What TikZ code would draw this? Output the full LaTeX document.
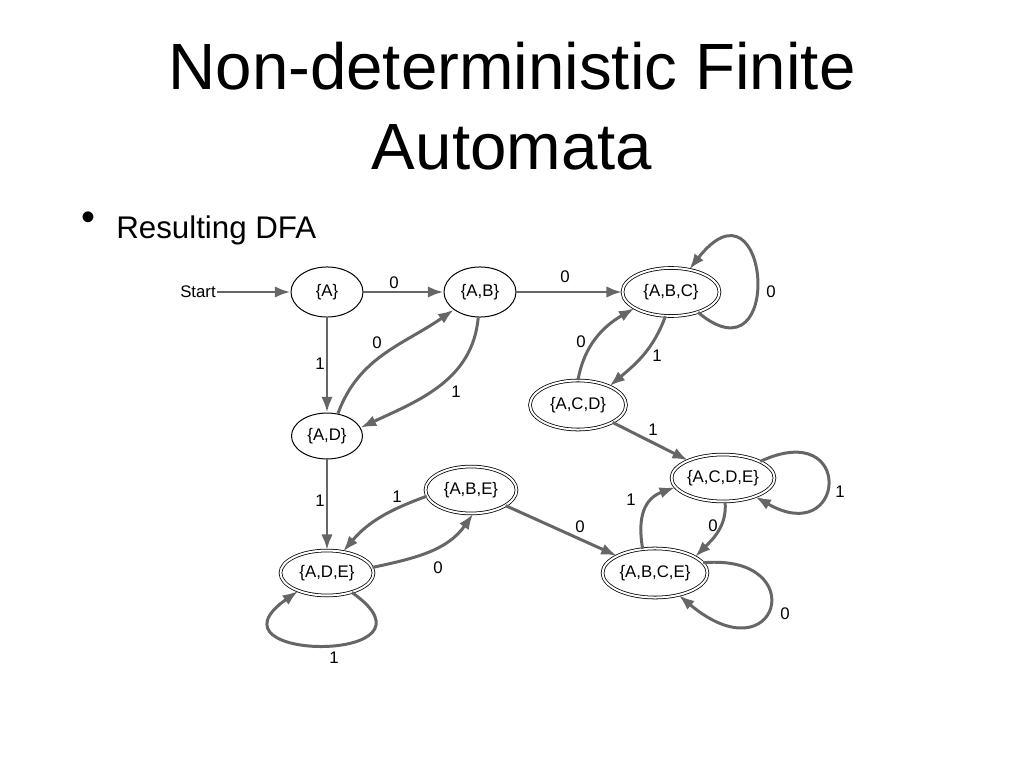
\documentclass[tikz,border=0pt]{standalone}
\usepackage{fontspec}
\setmainfont{Liberation Sans}
\usetikzlibrary{shapes.geometric,arrows.meta}
\newdimen\pxu \pxu=0.703125pt
\definecolor{edgegray}{RGB}{102,102,102}
\tikzset{
  st/.style={ellipse, draw=black, line width=0.7pt, inner sep=0pt, font=\fontsize{11.8}{14}\selectfont},
  acc/.style={st, double, double distance=1.4pt, line width=0.55pt},
  edge/.style={draw=edgegray, line width=2.1pt, -{Latex[length=11pt,width=8pt]}},
  lbl/.style={font=\fontsize{11.8}{14}\selectfont, inner sep=0pt},
}
\begin{document}
\begin{tikzpicture}[x=\pxu,y=\pxu]
\fill[white] (0,0) rectangle (1024,-768);
\useasboundingbox (0,0) rectangle (1024,-768);

% title and bullet
\node[anchor=base, inner sep=0pt, font=\fontsize{46}{55}\selectfont] (t1) at (512,-90) {Non-deterministic Finite};
\node[anchor=base, inner sep=0pt, font=\fontsize{46}{55}\selectfont] (t2) at (512,-170) {Automata};
\node[inner sep=0pt, font=\fontsize{28}{32}\selectfont] (bul) at (88.5,-221.5) {•};
\node[anchor=base west, inner sep=0pt, font=\fontsize{22}{26}\selectfont] (sub) at (116,-239) {Resulting DFA};

% states
\node[lbl, inner sep=1pt] (start) at (198,-292) {Start};
\node[st, minimum width=50.6pt, minimum height=35.2pt] (A) at (327,-292) {\{A\}};
\node[st, minimum width=50.6pt, minimum height=35.2pt] (AB) at (480,-292) {\{A,B\}};
\node[st, minimum width=49.9pt, minimum height=32.3pt] (AD) at (327,-436) {\{A,D\}};
\node[acc, minimum width=68.2pt, minimum height=33.8pt] (ABC) at (671,-292) {\{A,B,C\}};
\node[acc, minimum width=67.5pt, minimum height=34.5pt] (ACD) at (578,-405) {\{A,C,D\}};
\node[acc, minimum width=72.4pt, minimum height=33pt] (ACDE) at (723,-478) {\{A,C,D,E\}};
\node[acc, minimum width=64pt, minimum height=33pt] (ABE) at (471,-490) {\{A,B,E\}};
\node[acc, minimum width=65.4pt, minimum height=31.6pt] (ADE) at (327,-573) {\{A,D,E\}};
\node[acc, minimum width=73.8pt, minimum height=34.5pt] (ABCE) at (655,-573) {\{A,B,C,E\}};

% transitions
\draw[edge] (start) -- (A);
\draw[edge] (A) -- (AB);
\draw[edge] (A) -- (AD);
\draw[edge] (AD.64) to[out=70,in=215] (AB.214);
\draw[edge] (AB.-94) to[out=-95,in=25] (AD.14);
\draw[edge] (AB) -- (ABC);
\draw[edge] (ABC.-37) .. controls +(-40:115) and +(52:130) .. (ABC.51);
\draw[edge] (ACD.90) to[out=80,in=210] (ABC.204);
\draw[edge] (ABC.-103) to[out=-110,in=40] (ACD.31);
\draw[edge] (ACD) -- (ACDE);
\draw[edge] (ACDE.24) .. controls +(25:105) and +(-30:105) .. (ACDE.-30);
\draw[edge] (ACDE.-85) to[out=-85,in=45] (ABCE.22);
\draw[edge] (ABCE.117) to[out=100,in=200,looseness=1.2] (ACDE.191);
\draw[edge] (ABCE.12) .. controls +(5:110) and +(-40:130) .. (ABCE.-43);
\draw[edge] (ABE) -- (ABCE);
\draw[edge] (AD) -- (ADE);
\draw[edge] (ABE.188) to[out=200,in=50] (ADE.53);
\draw[edge] (ADE.7) to[out=12,in=-125] (ABE.-85);
\draw[edge] (ADE.-38) .. controls +(-35:125) and +(-145:125) .. (ADE.-148);

% labels
\node[lbl] (l1) at (394,-283) {0};
\node[lbl] (l2) at (320,-364) {1};
\node[lbl] (l3) at (377,-343) {0};
\node[lbl] (l4) at (456,-392) {1};
\node[lbl] (l5) at (565,-277) {0};
\node[lbl] (l6) at (771,-292) {0};
\node[lbl] (l7) at (581,-342) {0};
\node[lbl] (l8) at (657,-356) {1};
\node[lbl] (l9) at (653,-430) {1};
\node[lbl] (l10) at (840,-492) {1};
\node[lbl] (l11) at (631,-500) {1};
\node[lbl] (l12) at (713,-526) {0};
\node[lbl] (l13) at (580,-527) {0};
\node[lbl] (l14) at (320,-501) {1};
\node[lbl] (l15) at (397,-497) {1};
\node[lbl] (l16) at (438,-568) {0};
\node[lbl] (l17) at (785,-614) {0};
\node[lbl] (l18) at (334,-658) {1};
\end{tikzpicture}
\end{document}
